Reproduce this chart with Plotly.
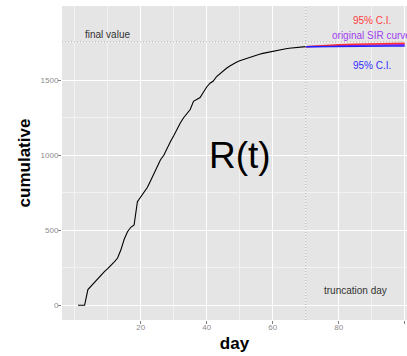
import plotly.graph_objects as go

days = list(range(1, 71))
cumulative = [0, 0, 0, 105, 130, 155, 180, 205, 225, 245,
              265, 290, 315, 370, 440, 490, 520, 535, 690, 720,
              755, 785, 830, 880, 925, 970, 1000, 1050, 1090, 1130,
              1175, 1215, 1250, 1280, 1305, 1360, 1370, 1385, 1420, 1455,
              1480, 1495, 1525, 1545, 1560, 1580, 1595, 1610, 1620, 1630,
              1638, 1646, 1654, 1661, 1668, 1674, 1679, 1684, 1688, 1692,
              1700, 1704, 1707, 1710, 1713, 1715, 1718, 1720, 1722, 1724]

proj_days = [70, 75, 80, 85, 90, 95, 100]
ci_upper = [1724, 1732, 1737, 1740, 1743, 1745, 1747]
sir_curve = [1724, 1729, 1732, 1734, 1735, 1736, 1737]
ci_lower = [1724, 1726, 1727, 1728, 1728, 1729, 1729]

final_value = 1755
truncation_day = 70

x_ticks = [20, 40, 60, 80, 100]
y_ticks = [0, 500, 1000, 1500]

fig = go.Figure()
fig.add_trace(go.Scatter(x=proj_days, y=sir_curve, mode="lines",
                         line=dict(color="#A020F0", width=1.5), showlegend=False))
fig.add_trace(go.Scatter(x=proj_days, y=ci_upper, mode="lines",
                         line=dict(color="#FF3030", width=1.5), showlegend=False))
fig.add_trace(go.Scatter(x=proj_days, y=ci_lower, mode="lines",
                         line=dict(color="#2020FF", width=1.5), showlegend=False))
fig.add_trace(go.Scatter(x=days, y=cumulative, mode="lines",
                         line=dict(color="black", width=1.1), showlegend=False))

fig.add_hline(y=final_value, line=dict(color="#A0A0A0", width=0.8, dash="1px,2px"))
fig.add_vline(x=truncation_day, line=dict(color="#A0A0A0", width=0.8, dash="1px,2px"))

font = "Liberation Sans, Arial, sans-serif"
ann = [
    dict(x=10, y=1802, text="final value", color="#333333", size=10),
    dict(x=50, y=1000, text="R(t)", color="black", size=37),
    dict(x=85, y=100, text="truncation day", color="#333333", size=10),
    dict(x=90, y=1900, text="95% C.I.", color="#FF4040", size=10),
    dict(x=90, y=1800, text="original SIR curve", color="#A040F0", size=10),
    dict(x=90, y=1600, text="95% C.I.", color="#3030FF", size=10),
]
for a in ann:
    fig.add_annotation(x=a["x"], y=a["y"], text=a["text"], showarrow=False,
                       xanchor="center", yanchor="middle",
                       font=dict(family=font, size=a["size"], color=a["color"]))

axis_common = dict(
    showgrid=True, gridcolor="white", gridwidth=1.1,
    zeroline=False, showline=False,
    ticks="outside", ticklen=3, tickcolor="#7F7F7F", tickwidth=1,
    tickfont=dict(family=font, size=8, color="#8C8C8C"),
)

fig.update_layout(
    width=407, height=356,
    margin=dict(l=62, r=0, t=6, b=36),
    paper_bgcolor="white", plot_bgcolor="#E5E5E5",
    xaxis=dict(range=[-3.85, 100.7], tickvals=x_ticks, ticklabelstandoff=-4,
               minor=dict(tickvals=[0, 10, 30, 50, 70, 90], showgrid=True,
                          gridcolor="#F2F2F2", gridwidth=0.6, ticks=""),
               title=dict(text="day", standoff=6,
                          font=dict(family=font, size=17, color="black", weight="bold")),
               **axis_common),
    yaxis=dict(range=[-98, 1995], tickvals=y_ticks, ticklabelstandoff=-2,
               minor=dict(tickvals=[250, 750, 1250, 1750], showgrid=True,
                          gridcolor="#F2F2F2", gridwidth=0.6, ticks=""),
               title=dict(text="cumulative", standoff=5,
                          font=dict(family=font, size=17, color="black", weight="bold")),
               **axis_common),
)

fig.write_html("out.html")
